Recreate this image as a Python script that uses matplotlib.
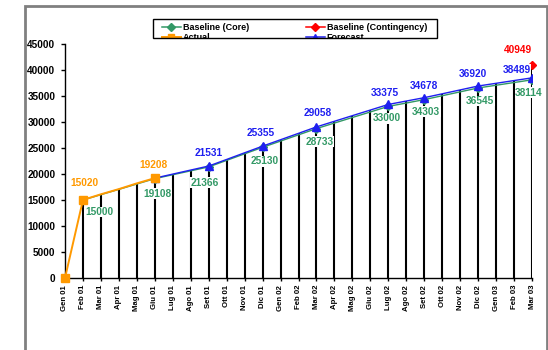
import numpy as np
import matplotlib
matplotlib.use('Agg')
import matplotlib.pyplot as plt
from matplotlib.patches import Rectangle
from matplotlib.lines import Line2D

plt.rcParams['font.family'] = ['Liberation Sans', 'DejaVu Sans']
plt.rcParams['font.weight'] = 'bold'

nan = np.nan

months = ['Gen 01', 'Feb 01', 'Mar 01', 'Apr 01', 'Mag 01', 'Giu 01', 'Lug 01', 'Ago 01',
          'Set 01', 'Ott 01', 'Nov 01', 'Dic 01', 'Gen 02', 'Feb 02', 'Mar 02', 'Apr 02',
          'Mag 02', 'Giu 02', 'Lug 02', 'Ago 02', 'Set 02', 'Ott 02', 'Nov 02', 'Dic 02',
          'Gen 03', 'Feb 03', 'Mar 03']

actual = [0, 15020, 16100, 17100, 18200, 19208] + [nan] * 21

core = [nan, 15000, 16030, 17050, 18080, 19108, 19860, 20610, 21366, 22620, 23880, 25130,
        26330, 27530, 28733, 29800, 30870, 31930, 33000, 33650, 34303, 35050, 35800, 36545,
        37070, 37590, 38114]

forecast = [nan] * 5 + [19208, 19980, 20760, 21531, 22800, 24080, 25355, 26590, 27820, 29058,
                        30140, 31220, 32300, 33375, 34030, 34678, 35420, 36170, 36920, 37440,
                        37970, 38489]

contingency = [nan] * 26 + [40949]

# points that carry a marker and a value label
actual_marks = [0, 1, 5]
actual_labels = [1, 5]
core_labels = [1, 5, 8, 11, 14, 18, 20, 23, 26]
fc_labels = [5, 8, 11, 14, 18, 20, 23, 26]

# label offsets in pixels (dx, dy)
actual_off = {1: (1, 17), 5: (-1, 13)}
core_off = {1: (16, -12), 5: (3, -15), 8: (-4, -16), 11: (2, -14), 14: (3, -13),
            18: (-1, -12), 20: (2, -12), 23: (2, -13), 26: (-3, -13)}
fc_off = {8: (0, 13), 11: (-2, 13), 14: (1, 14), 18: (-3, 11), 20: (0, 12),
          23: (-5, 12), 26: (-15, 8)}
cont_off = (-14, 15)

c_orange = '#FF9900'
c_green = '#339966'
c_blue = '#1F1FF0'
c_red = '#FF0000'

x = np.arange(len(months))
top = np.nanmax(np.vstack([actual, core, forecast, contingency]), axis=0)

fig = plt.figure(figsize=(5.48, 3.5), dpi=100)
ax = fig.add_axes([65 / 548, 72 / 350, 467 / 548, 234 / 350])

ax.vlines(x, 0, top, color='black', lw=1.5, zorder=1)

ax.plot(x, core, color=c_green, lw=1.0, marker='D', ms=4, markevery=core_labels, zorder=2)
ax.plot(x, forecast, color=c_blue, lw=1.0, marker='^', ms=6, markevery=fc_labels, zorder=3)
ax.plot(x, actual, color=c_orange, lw=1.4, marker='s', ms=6, markevery=actual_marks,
        zorder=4, clip_on=False)
ax.plot(x, contingency, color=c_red, marker='D', ms=4.5, ls='none', zorder=4, clip_on=False)

box = dict(facecolor='white', edgecolor='none', pad=0.3)


def label(i, v, off, col):
    ax.annotate(f'{int(v)}', (x[i], v), xytext=off, textcoords='offset pixels',
                ha='center', va='center', fontsize=7.3, color=col, fontweight='bold',
                bbox=box, zorder=6, annotation_clip=False)


for i in actual_labels:
    label(i, actual[i], actual_off[i], c_orange)
for i in core_labels:
    label(i, core[i], core_off[i], c_green)
for i in fc_off:
    label(i, forecast[i], fc_off[i], c_blue)
label(26, contingency[26], cont_off, c_red)

ax.set_xlim(0, len(months) - 1)
ax.set_ylim(0, 45000)
ax.set_yticks(np.arange(0, 45001, 5000))
ax.set_xticks(x)
ax.set_xticklabels(months, rotation=90, fontsize=5.6)
ax.tick_params(axis='y', labelsize=7.2, length=3, width=1, pad=4)
ax.tick_params(axis='x', length=2, width=1, pad=3)
for s in ['top', 'right']:
    ax.spines[s].set_visible(False)
ax.spines['left'].set_linewidth(1)
ax.spines['bottom'].set_linewidth(1)

handles = [
    Line2D([], [], color=c_green, marker='D', ms=4, lw=1.1),
    Line2D([], [], color=c_orange, marker='s', ms=5, lw=1.4),
    Line2D([], [], color=c_red, marker='D', ms=4, lw=1.1),
    Line2D([], [], color=c_blue, marker='^', ms=5, lw=1.1),
]
names = ['Baseline (Core)', 'Actual', 'Baseline (Contingency)', 'Forecast']
fig.legend(handles, names, ncol=2, loc='upper left', bbox_to_anchor=(162 / 548, 1 - 23.5 / 350),
           frameon=False, fontsize=6.5, borderpad=0, borderaxespad=0, labelspacing=0.05,
           handlelength=2.1, handletextpad=0.2, columnspacing=6.3)

# legend frame; the second row spills over it as in the original
fig.add_artist(Rectangle((153 / 548, 1 - 43 / 350), 284 / 548, 4.5 / 350,
                         transform=fig.transFigure, facecolor='white', edgecolor='none', zorder=7))
fig.add_artist(Rectangle((153 / 548, 1 - 38 / 350), 284 / 548, 19 / 350,
                         transform=fig.transFigure, fill=False, edgecolor='black', lw=1, zorder=8))

# outer chart area border
fig.add_artist(Rectangle((25 / 548, -0.1), 522 / 548, 344 / 350 + 0.1,
                         transform=fig.transFigure, fill=False, edgecolor='#808080', lw=2))

fig.savefig('out.png', dpi=100)
